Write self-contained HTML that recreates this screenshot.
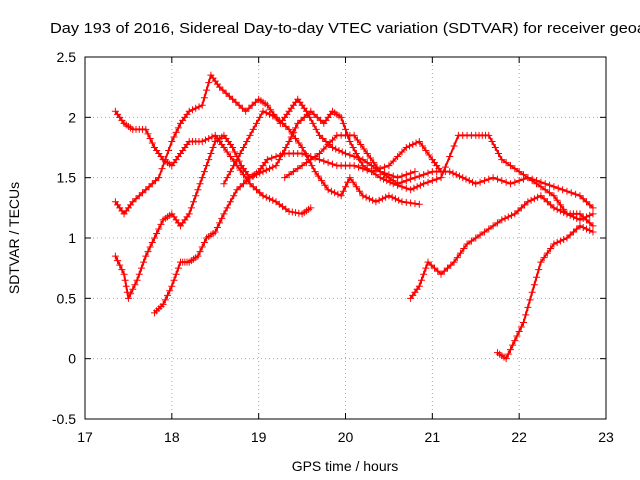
<!DOCTYPE html>
<html><head><meta charset="utf-8"><style>
html,body{margin:0;padding:0;background:#fff;}
svg{display:block;font-family:"Liberation Sans",sans-serif;}
</style></head><body>
<svg id="chart" width="640" height="480" viewBox="0 0 640 480">
<text x="50" y="33" font-size="15" text-anchor="start" textLength="596" lengthAdjust="spacingAndGlyphs">Day 193 of 2016, Sidereal Day-to-day VTEC variation (SDTVAR) for receiver geoa</text>
<g id="grid"></g>
<g id="axes"></g>
<g id="marks"></g>
<rect x="85" y="57" width="521" height="362" fill="none" stroke="#000" stroke-width="1"/>
<text x="345" y="471" font-size="14" text-anchor="middle">GPS time / hours</text>
<text transform="translate(19,238) rotate(-90)" font-size="14" text-anchor="middle">SDTVAR / TECUs</text>
</svg>
<script>
const xTicks=[17,18,19,20,21,22,23];
const yTicks=[-0.5,0,0.5,1,1.5,2,2.5];
const yTickLabels=["-0.5","0","0.5","1","1.5","2","2.5"];
const track1=[[17.35,2.05],[17.45,1.95],[17.55,1.9],[17.7,1.9],[17.8,1.75],[17.9,1.65],[18.0,1.6],[18.1,1.7],[18.2,1.8],[18.35,1.8],[18.5,1.85],[18.6,1.75],[18.75,1.6],[18.9,1.45],[19.05,1.35],[19.2,1.3],[19.35,1.22],[19.5,1.2],[19.6,1.25]];
const track2=[[17.35,1.3],[17.45,1.2],[17.55,1.3],[17.7,1.4],[17.85,1.5],[18.0,1.8],[18.1,1.95],[18.2,2.05],[18.35,2.1],[18.45,2.35],[18.55,2.25],[18.7,2.15],[18.85,2.05],[19.0,2.15],[19.1,2.1],[19.25,1.95],[19.35,2.05],[19.45,2.15],[19.55,2.05],[19.7,1.85],[19.85,1.75],[20.0,1.7],[20.2,1.65],[20.4,1.55],[20.6,1.45],[20.8,1.5],[21.0,1.55],[21.2,1.55],[21.35,1.5],[21.5,1.45],[21.7,1.5],[21.9,1.45],[22.1,1.5],[22.3,1.45],[22.5,1.4],[22.7,1.35],[22.85,1.25]];
const track3=[[17.35,0.85],[17.45,0.7],[17.5,0.5],[17.6,0.65],[17.7,0.85],[17.8,1.0],[17.9,1.15],[18.0,1.2],[18.1,1.1],[18.2,1.2],[18.3,1.4],[18.4,1.6],[18.5,1.8],[18.6,1.85],[18.7,1.75],[18.8,1.6],[18.9,1.5],[19.0,1.55],[19.1,1.65],[19.3,1.7],[19.5,1.7],[19.7,1.65],[19.9,1.6],[20.1,1.6],[20.3,1.55],[20.5,1.6],[20.7,1.75],[20.85,1.8],[21.0,1.65],[21.1,1.55]];
const track4=[[17.8,0.38],[17.9,0.45],[18.0,0.6],[18.1,0.8],[18.2,0.8],[18.3,0.85],[18.4,1.0],[18.5,1.05],[18.6,1.2],[18.75,1.4],[18.9,1.5],[19.05,1.55],[19.2,1.6],[19.35,1.8],[19.45,1.95],[19.6,2.05],[19.75,1.95],[19.85,2.05],[19.95,2.0],[20.05,1.8],[20.2,1.6],[20.4,1.5],[20.55,1.45],[20.75,1.4],[20.9,1.45],[21.1,1.5],[21.3,1.85],[21.5,1.85],[21.65,1.85],[21.8,1.65],[22.0,1.55],[22.2,1.45],[22.4,1.35],[22.55,1.2],[22.7,1.15],[22.85,1.2]];
const track5=[[18.6,1.45],[18.75,1.65],[18.9,1.85],[19.05,2.05],[19.2,2.0],[19.35,1.9],[19.5,1.75],[19.65,1.55],[19.8,1.4],[19.95,1.35],[20.05,1.5],[20.2,1.35],[20.35,1.3],[20.5,1.35],[20.65,1.3],[20.85,1.28]];
const track6=[[19.3,1.5],[19.5,1.6],[19.7,1.7],[19.9,1.85],[20.1,1.85],[20.25,1.7],[20.4,1.55],[20.6,1.5],[20.8,1.55]];
const track7=[[20.75,0.5],[20.85,0.6],[20.95,0.8],[21.1,0.7],[21.25,0.8],[21.4,0.95],[21.6,1.05],[21.8,1.15],[21.95,1.2],[22.1,1.3],[22.25,1.35],[22.4,1.25],[22.55,1.2],[22.7,1.2],[22.85,1.1]];
const track8=[[21.75,0.05],[21.85,0.0],[21.95,0.15],[22.05,0.3],[22.15,0.55],[22.25,0.8],[22.4,0.95],[22.55,1.0],[22.7,1.1],[22.85,1.05]];
const tracks=[track1,track2,track3,track4,track5,track6,track7,track8];

const X0=85,X1=606,Y0=419,Y1=57;
function xs(v){return X0+(v-17)/6*(X1-X0);}
function ys(v){return Y0-(v+0.5)/3*(Y0-Y1);}
const NS="http://www.w3.org/2000/svg";
const grid=document.getElementById('grid'),axes=document.getElementById('axes'),marks=document.getElementById('marks');
function mk(tag,attrs,parent){const e=document.createElementNS(NS,tag);for(const k in attrs)e.setAttribute(k,attrs[k]);parent.appendChild(e);return e;}
xTicks.forEach(t=>{
  const x=xs(t);
  if(t>17&&t<23){const g=mk('line',{x1:x,x2:x,y1:Y1,y2:Y0,stroke:'#aaa','stroke-dasharray':'1,3'},grid);
  
  }
  mk('line',{x1:x,x2:x,y1:Y0,y2:Y0-6,stroke:'#000'},axes);
  mk('line',{x1:x,x2:x,y1:Y1,y2:Y1+6,stroke:'#000'},axes);
  const tx=mk('text',{x:x,y:Y0+23,'font-size':'14','text-anchor':'middle'},axes);
  tx.textContent=String(t);
  
  
});
yTicks.forEach((t,i)=>{
  const y=ys(t);
  if(t>-0.5&&t<2.5){const g=mk('line',{x1:X0,x2:X1,y1:y,y2:y,stroke:'#aaa','stroke-dasharray':'1,3'},grid);
  
  }
  mk('line',{x1:X0,x2:X0+6,y1:y,y2:y,stroke:'#000'},axes);
  mk('line',{x1:X1,x2:X1-6,y1:y,y2:y,stroke:'#000'},axes);
  const tx=mk('text',{x:X0-9,y:y+5,'font-size':'14','text-anchor':'end'},axes);
  tx.textContent=yTickLabels[i];
  
  
});
tracks.forEach((tr,ti)=>{
  const pl=mk('polyline',{points:tr.map(p=>xs(p[0])+','+ys(p[1])).join(' '),fill:'none',stroke:'#f00','stroke-width':'2','stroke-linejoin':'round'},marks);
  
  
  for(let i=0;i<tr.length;i++){
    const pts=[tr[i]];
    if(i<tr.length-1){
      for(const f of [0.25,0.5,0.75]) pts.push([tr[i][0]+(tr[i+1][0]-tr[i][0])*f,tr[i][1]+(tr[i+1][1]-tr[i][1])*f]);
    }
    pts.forEach(p=>{
      const x=xs(p[0]),y=ys(p[1]);
      const m=mk('path',{d:`M${x-3.5},${y}H${x+3.5}M${x},${y-3.5}V${y+3.5}`,stroke:'#f00','stroke-width':'1'},marks);
      
      
    });
  }
});
</script>
</body></html>
